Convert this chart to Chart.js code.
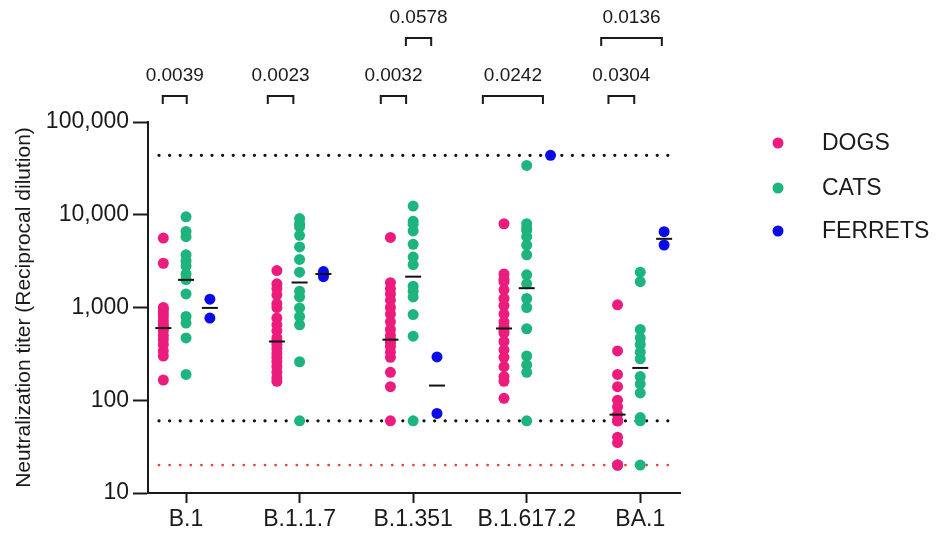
<!DOCTYPE html>
<html>
<head>
<meta charset="utf-8">
<script src="https://cdn.jsdelivr.net/npm/chart.js@4.4.0/dist/chart.umd.min.js"></script>
<style>
  html, body { margin: 0; padding: 0; background: #fff; }
</style>
</head>
<body>
<canvas id="chart" width="945" height="539"></canvas>
<script>
// categories
const variants = ['B.1', 'B.1.1.7', 'B.1.351', 'B.1.617.2', 'BA.1'];
const yTicks = [10, 100, 1000, 10000, 100000];

// titers per animal, one row per variant
const dogs = [
  [5600, 3000, 1000, 950, 870, 800, 720, 660, 620, 600, 560, 500, 450, 400, 340, 300, 165],
  [2500, 1800, 1600, 1370, 1100, 1000, 770, 650, 560, 470, 430, 400, 360, 320, 290, 260, 230, 200, 175, 160],
  [5700, 1850, 1600, 1400, 1200, 1000, 850, 700, 580, 500, 450, 420, 380, 330, 290, 200, 140, 60],
  [8000, 2300, 2000, 1900, 1550, 1250, 1050, 850, 700, 620, 560, 530, 430, 350, 290, 230, 180, 160, 105],
  [1070, 340, 190, 140, 100, 85, 70, 60, 60, 60, 40, 35, 20, 20, 20]
];
const cats = [
  [9500, 6600, 5800, 3700, 3200, 2800, 2300, 2000, 1400, 800, 680, 470, 190],
  [9100, 8000, 7400, 6000, 4500, 3300, 2400, 1500, 1300, 990, 800, 650, 260, 60],
  [12400, 8500, 7900, 6700, 4800, 3500, 2900, 1700, 1500, 1300, 840, 490, 60],
  [34000, 8000, 7200, 6800, 5800, 4700, 3700, 2250, 1800, 1250, 1000, 590, 300, 240, 200, 60],
  [2400, 1900, 580, 470, 400, 330, 280, 180, 150, 120, 65, 60, 20]
];
const ferrets = [
  [1230, 770],
  [2440, 2300, 2150],
  [293, 72],
  [43740],
  [6560, 4720]
];

// group medians (black bars)
const dogMedians = [600, 430, 450, 594, 70];
const catMedians = [1985, 1860, 2150, 1615, 223];
const ferretMedians = [990, 2300, 144, null, 5500];

// dotted reference levels
const refLevels = [43740, 60];
const lodLevel = 20;

// p-value brackets: label, from, to (category units), row
const pLabels = ['0.0039', '0.0023', '0.0032', '0.0578', '0.0242', '0.0304', '0.0136'];
const pFrom = [0.795, 1.72, 2.715, 2.936, 3.614, 4.72, 4.656];
const pTo = [1.006, 1.945, 2.938, 3.159, 4.143, 4.947, 5.19];
const pRow = [0, 0, 0, 1, 0, 0, 1];

const FONT = "'Liberation Sans', Arial, sans-serif";
const INK = '#1a1a1a';
const groups = [
  { label: 'DOGS', values: dogs, medians: dogMedians, offset: -0.2, color: '#EC1C7C' },
  { label: 'CATS', values: cats, medians: catMedians, offset: 0, color: '#1DB47E' },
  { label: 'FERRETS', values: ferrets, medians: ferretMedians, offset: 0.21, color: '#0B0BE6' }
];

const datasets = [];

groups.forEach(g => {
  const pts = [];
  g.values.forEach((row, i) => row.forEach(v => pts.push({ x: i + 1 + g.offset, y: v })));
  datasets.push({
    label: g.label,
    data: pts,
    backgroundColor: g.color,
    borderWidth: 0,
    pointRadius: 5.5,
    pointHoverRadius: 5.5,
    order: 1
  });
});

groups.forEach(g => {
  const pts = [];
  g.medians.forEach((m, i) => { if (m !== null) pts.push({ x: i + 1 + g.offset, y: m }); });
  datasets.push({
    label: g.label + ' median',
    data: pts,
    pointStyle: 'line',
    pointRadius: 8,
    pointBorderWidth: 2,
    borderColor: '#111',
    backgroundColor: '#111',
    order: 0
  });
});

const REF_X0 = 0.762, REF_X1 = 5.25;
refLevels.forEach(v => {
  datasets.push({
    label: 'ref ' + v,
    data: [{ x: REF_X0, y: v }, { x: REF_X1, y: v }],
    showLine: true,
    pointRadius: 0,
    borderColor: '#111',
    borderWidth: 3.3,
    borderDash: [0, 10.6],
    borderCapStyle: 'round',
    order: 2
  });
});
datasets.push({
  label: 'LOD',
  data: [{ x: REF_X0, y: lodLevel }, { x: REF_X1, y: lodLevel }],
  showLine: true,
  pointRadius: 0,
  borderColor: '#E2463F',
  borderWidth: 2.8,
  borderDash: [0, 10.6],
  borderCapStyle: 'round',
  order: 2
});

// brackets with p-values above the plot
const bracketPlugin = {
  id: 'brackets',
  afterDraw(chart) {
    const ctx = chart.ctx;
    const xs = chart.scales.x;
    const rowTop = [96, 38];
    const rowText = [76, 18];
    ctx.save();
    ctx.strokeStyle = INK;
    ctx.lineWidth = 2;
    ctx.fillStyle = INK;
    ctx.font = '19px ' + FONT;
    ctx.textAlign = 'center';
    ctx.textBaseline = 'middle';
    pLabels.forEach((lab, i) => {
      const x1 = xs.getPixelForValue(pFrom[i]);
      const x2 = xs.getPixelForValue(pTo[i]);
      const top = rowTop[pRow[i]];
      ctx.beginPath();
      ctx.moveTo(x1, top + 8);
      ctx.lineTo(x1, top);
      ctx.lineTo(x2, top);
      ctx.lineTo(x2, top + 8);
      ctx.stroke();
      ctx.fillText(lab, (x1 + x2) / 2, rowText[pRow[i]]);
    });
    ctx.restore();
  }
};

// legend on the right
const legendPlugin = {
  id: 'sideLegend',
  afterDraw(chart) {
    const ctx = chart.ctx;
    const rowsY = [143, 188, 231];
    ctx.save();
    ctx.font = '23px ' + FONT;
    ctx.textBaseline = 'middle';
    ctx.textAlign = 'left';
    groups.forEach((g, i) => {
      ctx.fillStyle = chart.data.datasets[i].backgroundColor;
      ctx.beginPath();
      ctx.arc(778, rowsY[i], 5.5, 0, Math.PI * 2);
      ctx.fill();
      ctx.fillStyle = INK;
      ctx.fillText(chart.data.datasets[i].label, 822, rowsY[i] + 1);
    });
    ctx.restore();
  }
};

new Chart(document.getElementById('chart').getContext('2d'), {
  type: 'scatter',
  data: { datasets: datasets },
  plugins: [bracketPlugin, legendPlugin],
  options: {
    responsive: false,
    animation: false,
    events: [],
    layout: { padding: { top: 122, right: 265, left: 0, bottom: 0 } },
    plugins: {
      legend: { display: false },
      tooltip: { enabled: false }
    },
    scales: {
      x: {
        type: 'linear',
        min: 0.665,
        max: 5.35,
        afterBuildTicks: s => { s.ticks = variants.map((_, i) => ({ value: i + 1 })); },
        afterFit: s => { s.height = 46; },
        ticks: {
          callback: v => variants[v - 1],
          font: { size: 23, family: FONT },
          color: INK,
          padding: 3,
          autoSkip: false,
          maxRotation: 0
        },
        grid: { drawOnChartArea: false, tickLength: 10, tickWidth: 2, color: INK },
        border: { color: INK, width: 2 }
      },
      y: {
        type: 'logarithmic',
        min: 10,
        max: 100000,
        afterBuildTicks: s => { s.ticks = yTicks.map(v => ({ value: v })); },
        afterFit: s => { s.width = 148; },
        ticks: {
          callback: v => v.toLocaleString('en-US'),
          font: { size: 23, family: FONT },
          color: INK,
          padding: 4,
          autoSkip: false
        },
        grid: { drawOnChartArea: false, tickLength: 15, tickWidth: 2, color: INK },
        border: { color: INK, width: 2 },
        title: {
          display: true,
          text: 'Neutralization titer (Reciprocal dilution)',
          font: { size: 21, family: FONT },
          color: INK,
          padding: { top: 12, bottom: 0 }
        }
      }
    }
  }
});
</script>
</body>
</html>
